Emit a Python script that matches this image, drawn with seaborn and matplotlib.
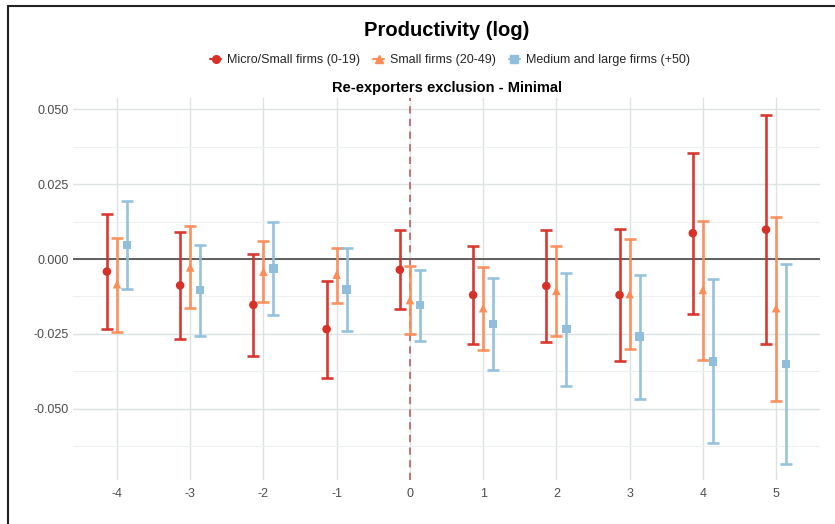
import matplotlib
matplotlib.use("Agg")
import matplotlib.pyplot as plt
from matplotlib.lines import Line2D
import numpy as np
import pandas as pd
import seaborn as sns

periods = [-4, -3, -2, -1, 0, 1, 2, 3, 4, 5]
tick_labels = ["-4", "-3", "-2", "-1", "0", "1", "2", "3", "4", "5"]
groups = ["Micro/Small firms (0-19)", "Small firms (20-49)", "Medium and large firms (+50)"]

micro_est = [-0.0042, -0.0088, -0.0153, -0.0234, -0.0036, -0.0120, -0.0090, -0.0120, 0.0086, 0.0098]
micro_lo = [-0.0232, -0.0268, -0.0322, -0.0396, -0.0167, -0.0282, -0.0276, -0.0339, -0.0183, -0.0284]
micro_hi = [0.0149, 0.0091, 0.0016, -0.0072, 0.0097, 0.0042, 0.0096, 0.0101, 0.0354, 0.0480]

small_est = [-0.0084, -0.0028, -0.0042, -0.0052, -0.0137, -0.0164, -0.0106, -0.0117, -0.0103, -0.0164]
small_lo = [-0.0242, -0.0162, -0.0142, -0.0146, -0.0251, -0.0302, -0.0256, -0.0301, -0.0337, -0.0473]
small_hi = [0.0069, 0.0109, 0.0059, 0.0036, -0.0022, -0.0028, 0.0043, 0.0066, 0.0127, 0.0141]

large_est = [0.0047, -0.0103, -0.0031, -0.0101, -0.0154, -0.0217, -0.0233, -0.0259, -0.0341, -0.0350]
large_lo = [-0.0099, -0.0256, -0.0188, -0.0239, -0.0273, -0.0369, -0.0423, -0.0466, -0.0614, -0.0683]
large_hi = [0.0193, 0.0047, 0.0123, 0.0036, -0.0036, -0.0064, -0.0046, -0.0053, -0.0068, -0.0018]

colors = ["#d73027", "#fc8d59", "#91bfdb"]
markers = ["o", "^", "s"]
offsets = [-0.137, 0.0, 0.137]

rows = []
for g, est, lo, hi in zip(groups, [micro_est, small_est, large_est],
                          [micro_lo, small_lo, large_lo], [micro_hi, small_hi, large_hi]):
    for p, e, l, h in zip(periods, est, lo, hi):
        rows.append({"period": p, "group": g, "est": e, "lo": l, "hi": h})
df = pd.DataFrame(rows)
off_map = dict(zip(groups, offsets))
df["xpos"] = df["period"] + df["group"].map(off_map)

sns.set_theme(style="whitegrid")
plt.rcParams["font.family"] = ["Liberation Sans", "DejaVu Sans"]
plt.rcParams["axes.unicode_minus"] = False

fig = plt.figure(figsize=(8.35, 5.24), dpi=100)
ax = fig.add_axes([73 / 835, 1 - 480 / 524, (820 - 73) / 835, (480 - 98) / 524])
ax.set_facecolor("white")

# reference lines
ax.axhline(0, color="#555555", lw=1.3, zorder=2)
ax.axvline(0, color="#b5484a", lw=1.3, ls=(0, (4, 3)), alpha=0.8, zorder=2)

for g, c in zip(groups, colors):
    d = df[df["group"] == g]
    ax.errorbar(d["xpos"], d["est"], yerr=[d["est"] - d["lo"], d["hi"] - d["est"]],
                fmt="none", ecolor=c, elinewidth=1.9, capsize=4.3, capthick=1.9,
                alpha=0.95, zorder=3)

sns.scatterplot(data=df, x="xpos", y="est", hue="group", style="group",
                palette=dict(zip(groups, colors)), markers=dict(zip(groups, markers)),
                hue_order=groups, style_order=groups, s=38, edgecolor="none",
                legend=False, ax=ax, zorder=4)

ax.set_xlim(-4.6, 5.6)
ax.set_ylim(-0.0737, 0.0537)
ax.set_xticks(periods)
ax.set_xticklabels(tick_labels)
ax.set_yticks([-0.050, -0.025, 0.0, 0.025, 0.050])
ax.set_yticklabels(["-0.050", "-0.025", "0.000", "0.025", "0.050"])
ax.set_yticks([-0.0625, -0.0375, -0.0125, 0.0125, 0.0375], minor=True)
ax.grid(True, which="major", axis="both", color="#dde2e4", lw=1.0)
ax.grid(True, which="minor", axis="y", color="#eef1f2", lw=0.8)
ax.grid(False, which="minor", axis="x")
ax.tick_params(axis="both", which="both", length=0, labelsize=9, labelcolor="#4d4d4d")
ax.tick_params(axis="x", pad=6)
ax.tick_params(axis="y", pad=3)
for s in ax.spines.values():
    s.set_visible(False)
ax.set_xlabel("")
ax.set_ylabel("")
ax.set_title("Re-exporters exclusion - Minimal", fontsize=10.5, fontweight="bold",
             color="black", pad=4)

fig.text(0.535, 1 - 30 / 524, "Productivity (log)", ha="center", va="center",
         fontsize=14.5, fontweight="bold", color="black")

handles = [Line2D([0], [0], color=c, marker=m, lw=1.5, markersize=5.5)
           for c, m in zip(colors, markers)]
fig.legend(handles, groups, loc="center", bbox_to_anchor=(0.539, 1 - 60 / 524), ncol=3,
           frameon=False, fontsize=9, handlelength=0.9, handletextpad=0.5,
           columnspacing=1.0)

# outer frame (left and top)
fig.add_artist(Line2D([8 / 835, 8 / 835], [0, 1 - 6 / 524], color="#222222", lw=1.5,
                      transform=fig.transFigure))
fig.add_artist(Line2D([8 / 835, 1], [1 - 6 / 524, 1 - 6 / 524], color="#222222", lw=1.5,
                      transform=fig.transFigure))

fig.savefig("out.png", dpi=100)
